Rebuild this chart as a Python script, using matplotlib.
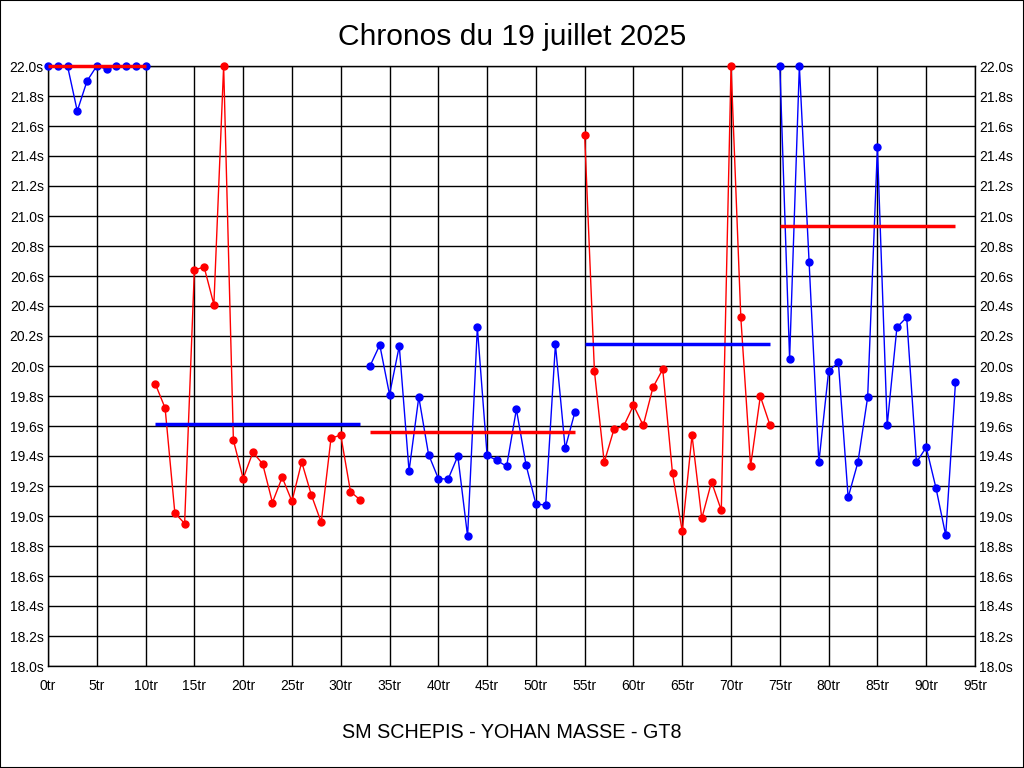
import matplotlib
matplotlib.use("Agg")
import matplotlib.pyplot as plt
from matplotlib.patches import Rectangle
from matplotlib.ticker import MultipleLocator, FuncFormatter

plt.rcParams['font.family'] = ['Liberation Sans', 'DejaVu Sans']

# ---- data ----
stint_start_laps = [0, 11, 33, 55, 75]
stint_colors = ['#0000ff', '#ff0000', '#0000ff', '#ff0000', '#0000ff']
avg_colors = ['#ff0000', '#0000ff', '#ff0000', '#0000ff', '#ff0000']

stint1 = [22.0, 22.0, 22.0, 21.70, 21.90, 22.0, 21.98, 22.0, 22.0, 22.0, 22.0]
stint2 = [19.88, 19.72, 19.02, 18.95, 20.64, 20.66, 20.41, 22.0, 19.505, 19.25,
          19.425, 19.347, 19.09, 19.258, 19.098, 19.36, 19.138, 18.958, 19.518,
          19.54, 19.162, 19.107]
stint3 = [20.0, 20.14, 19.81, 20.133, 19.30, 19.793, 19.41, 19.25, 19.245, 19.40,
          18.865, 20.258, 19.404, 19.371, 19.331, 19.711, 19.338, 19.08, 19.073,
          20.144, 19.451, 19.693]
stint4 = [21.538, 19.964, 19.358, 19.578, 19.60, 19.738, 19.604, 19.858, 19.978,
          19.284, 18.898, 19.538, 18.984, 19.227, 19.038, 22.0, 20.325, 19.331,
          19.798, 19.604]
stint5 = [22.0, 20.047, 22.0, 20.691, 19.358, 19.967, 20.024, 19.124, 19.358,
          19.793, 21.458, 19.604, 20.258, 20.325, 19.358, 19.458, 19.187, 18.871,
          19.891]
stints = [stint1, stint2, stint3, stint4, stint5]
stint_averages = [22.0, 19.611, 19.558, 20.144, 20.931]

title = "Chronos du 19 juillet 2025"
subtitle = "SM SCHEPIS - YOHAN MASSE - GT8"

# ---- figure ----
fig = plt.figure(figsize=(10.24, 7.68), dpi=100)
fig.patches.append(Rectangle((0, 0), 1, 1, transform=fig.transFigure,
                             fill=False, edgecolor='black', linewidth=1.5))
ax = fig.add_axes([48/1024, 1-666/768, 927/1024, 600/768])

for start, vals, col, avg, acol in zip(stint_start_laps, stints, stint_colors,
                                        stint_averages, avg_colors):
    laps = list(range(start, start + len(vals)))
    ax.plot(laps, vals, color=col, linewidth=1.0, marker='o', markersize=5,
            zorder=3, clip_on=False)
    ax.plot([laps[0], laps[-1]], [avg, avg], color=acol, linewidth=2.5,
            solid_capstyle='butt', zorder=4, clip_on=False)

ax.set_xlim(0, 95)
ax.set_ylim(18.0, 22.0)
ax.xaxis.set_major_locator(MultipleLocator(5))
ax.yaxis.set_major_locator(MultipleLocator(0.2))
ax.xaxis.set_major_formatter(FuncFormatter(lambda v, p: f"{int(round(v))}tr"))
ax.yaxis.set_major_formatter(FuncFormatter(lambda v, p: f"{v:.1f}s"))
ax.grid(True, color='black', linewidth=1.0)
ax.set_axisbelow(True)
ax.tick_params(axis='both', length=0, labelsize=10)
ax.tick_params(axis='x', pad=9)
ax.tick_params(axis='y', pad=3, labelright=True, right=True)
for s in ax.spines.values():
    s.set_linewidth(1.0)
    s.set_color('black')

fig.text(0.5, 1-37/768, title, ha='center', va='center', fontsize=21.6)
fig.text(0.5, 1-733/768, subtitle, ha='center', va='center', fontsize=14.2)

fig.savefig("out.png", dpi=100)
